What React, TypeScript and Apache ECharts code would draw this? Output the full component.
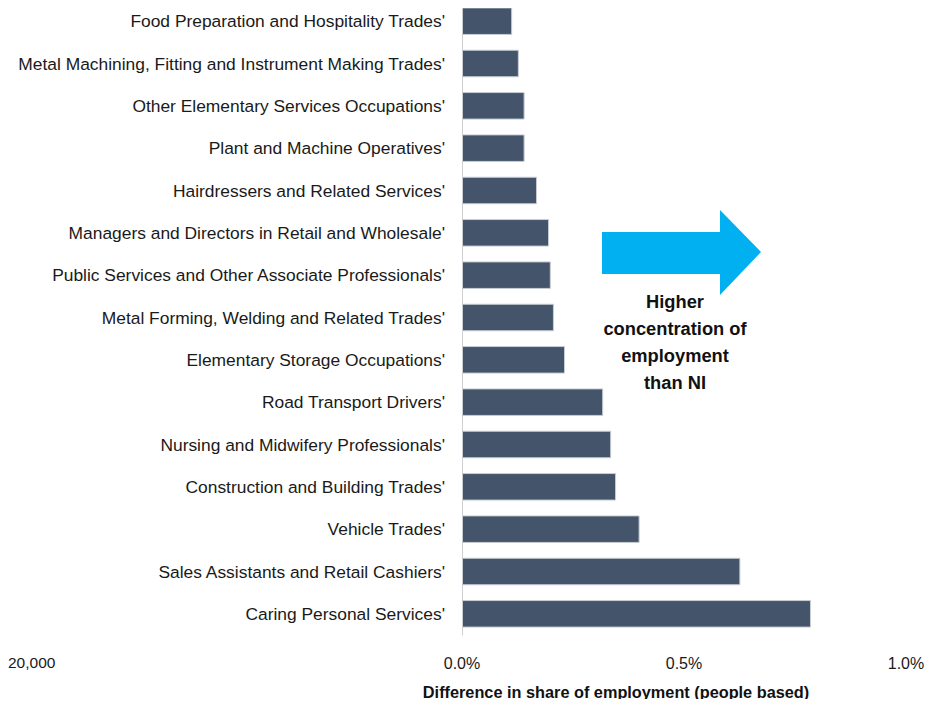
import React, { useEffect, useRef } from "react";
import * as echarts from "echarts";

const categories = [
  "Food Preparation and Hospitality Trades'",
  "Metal Machining, Fitting and Instrument Making Trades'",
  "Other Elementary Services Occupations'",
  "Plant and Machine Operatives'",
  "Hairdressers and Related Services'",
  "Managers and Directors in Retail and Wholesale'",
  "Public Services and Other Associate Professionals'",
  "Metal Forming, Welding and Related Trades'",
  "Elementary Storage Occupations'",
  "Road Transport Drivers'",
  "Nursing and Midwifery Professionals'",
  "Construction and Building Trades'",
  "Vehicle Trades'",
  "Sales Assistants and Retail Cashiers'",
  "Caring Personal Services'",
];

const values = [
  0.113, 0.128, 0.141, 0.141, 0.169, 0.196, 0.2, 0.207, 0.232, 0.318, 0.336,
  0.347, 0.4, 0.627, 0.786,
];

const xTicks = { min: 0, max: 1, interval: 0.5 };
const axisTitle = "Difference in share of employment (people based)";
const annotationLines = ["Higher", "concentration of", "employment", "than NI"];
const strayLabel = "20,000";

const FONT = "'Liberation Sans', Arial, sans-serif";

export default function App() {
  const ref = useRef<HTMLDivElement>(null);
  useEffect(() => {
    if (!ref.current) return;
    const chart = echarts.init(ref.current, null, { renderer: "svg" });
    chart.setOption({
      animation: false,
      textStyle: { fontFamily: FONT },
      grid: { left: 462, right: 27, top: 0, bottom: 72, containLabel: false },
      xAxis: {
        type: "value",
        min: xTicks.min,
        max: xTicks.max,
        interval: xTicks.interval,
        axisLine: { show: false },
        axisTick: { show: false },
        splitLine: { show: false },
        axisLabel: {
          margin: 20,
          fontSize: 16,
          color: "#1a1a1a",
          fontFamily: FONT,
          formatter: (v: number) => v.toFixed(1) + "%",
        },
      },
      yAxis: {
        type: "category",
        inverse: true,
        data: categories,
        axisLine: { show: true, lineStyle: { color: "#d0d0d0", width: 1 } },
        axisTick: { show: false },
        axisLabel: { fontSize: 17.4, color: "#1a1a1a", margin: 17, fontFamily: FONT },
      },
      series: [
        {
          type: "bar",
          data: values,
          barCategoryGap: "35%",
          itemStyle: { color: "#44546A", borderColor: "#c8cdd3", borderWidth: 1 },
        },
      ],
      graphic: [
        {
          type: "polygon",
          shape: {
            points: [
              [602, 232],
              [720, 232],
              [720, 210],
              [761, 252],
              [720, 295],
              [720, 274],
              [602, 274],
            ],
          },
          style: { fill: "#00B0F0" },
        },
        ...annotationLines.map((t, i) => ({
          type: "text",
          x: 675,
          y: 301 + i * 27,
          style: {
            text: t,
            fill: "#111",
            font: `bold 18.3px ${FONT}`,
            textAlign: "center",
            textVerticalAlign: "middle",
          },
        })),
        {
          type: "text",
          x: 616,
          y: 692,
          style: {
            text: axisTitle,
            fill: "#111",
            font: `bold 16.3px ${FONT}`,
            textAlign: "center",
            textVerticalAlign: "middle",
          },
        },
        {
          type: "text",
          x: 8,
          y: 662,
          style: {
            text: strayLabel,
            fill: "#1a1a1a",
            font: `15.5px ${FONT}`,
            textAlign: "left",
            textVerticalAlign: "middle",
          },
        },
      ],
    });
    return () => chart.dispose();
  }, []);
  return <div ref={ref} style={{ width: 933, height: 707, margin: -8 }} />;
}
